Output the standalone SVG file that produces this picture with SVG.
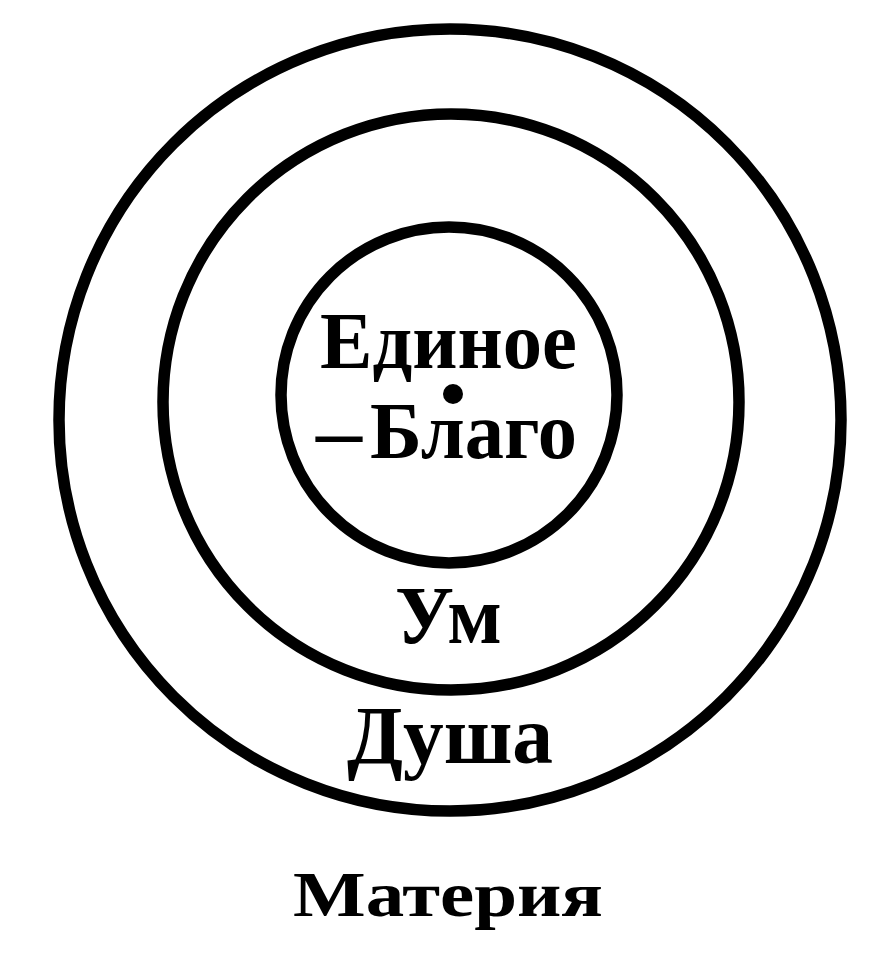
<svg xmlns="http://www.w3.org/2000/svg" width="873" height="953" viewBox="0 0 873 953">
<style>
.ring{fill:none;stroke:#000;stroke-width:11.5}
.lbl{font-family:"Liberation Serif","DejaVu Serif",serif;font-weight:bold;fill:#000}
</style>
<rect width="873" height="953" fill="#fff"/>
<g id="soul">
<circle class="ring" cx="450" cy="420" r="391"/>
<text class="lbl" x="347" y="763" font-size="82" textLength="206" lengthAdjust="spacingAndGlyphs">Душа</text>
</g>
<g id="mind">
<circle class="ring" cx="451" cy="402" r="288"/>
<text class="lbl" x="395" y="643" font-size="82" textLength="107" lengthAdjust="spacingAndGlyphs">Ум</text>
</g>
<g id="one">
<circle class="ring" cx="449" cy="395" r="168"/>
<circle cx="453" cy="394" r="10" fill="#000"/>
<text class="lbl" x="320" y="368" font-size="80" textLength="257" lengthAdjust="spacingAndGlyphs">Единое</text>
<text class="lbl" y="458" font-size="80"><tspan x="316" textLength="46" lengthAdjust="spacingAndGlyphs">–</tspan><tspan x="370" textLength="207" lengthAdjust="spacingAndGlyphs">Благо</tspan></text>
</g>
<g id="matter">
<text class="lbl" x="293" y="916" font-size="64" textLength="310" lengthAdjust="spacingAndGlyphs">Материя</text>
</g>
</svg>
